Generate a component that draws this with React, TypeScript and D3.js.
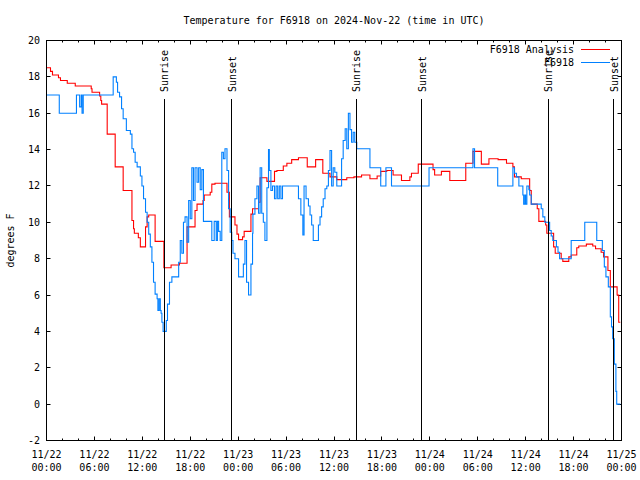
import React from "react";
import * as d3 from "d3";

// ---- Data (hours since 2024-11-22 00:00 UTC) ----
const redHours = [0, 0.5, 0.75, 1.5, 1.75, 2.6, 3.6, 5.6, 5.7, 6.65, 6.8, 6.9, 7.6, 8.6, 9.6, 10.7, 10.9, 11.0, 11.5, 11.75, 12.4, 12.6, 12.8, 13.6, 14.7, 15.6, 16.65, 17.6, 18.6, 18.85, 19.6, 19.75, 20.5, 20.7, 21.1, 22.6, 22.9, 23.6, 23.85, 24.05, 24.55, 24.75, 25.6, 25.8, 26.55, 26.75, 27.6, 28.55, 28.85, 29.65, 30.1, 30.7, 31.55, 32.65, 33.7, 34.6, 35.5, 36.35, 37.6, 38.5, 39.45, 40.5, 41.4, 41.85, 42.6, 43.4, 44.45, 45.5, 45.7, 46.55, 48.4, 48.6, 49.45, 50.5, 52.5, 53.4, 54.45, 55.4, 56.55, 57.6, 58.4, 58.6, 59.45, 60.5, 60.7, 61.45, 61.65, 62.5, 62.65, 63.5, 63.7, 64.45, 64.65, 65.4, 65.7, 66.4, 66.65, 67.6, 68.4, 68.75, 69.45, 69.75, 70.3, 70.6, 71.45, 71.65, 71.85];
const redTemps = [18.5, 18.3, 18.1, 17.95, 17.8, 17.65, 17.5, 17.35, 17.15, 16.95, 16.7, 16.5, 14.85, 13.05, 11.75, 10.1, 9.65, 9.4, 9.15, 8.65, 9.75, 10.3, 10.4, 8.95, 7.5, 7.65, 7.75, 9.75, 10.65, 11.0, 11.2, 11.5, 11.65, 12.1, 12.15, 11.65, 10.3, 9.85, 9.35, 9.05, 9.2, 9.5, 10.45, 10.75, 11.1, 12.45, 12.25, 12.8, 12.85, 13.1, 13.25, 13.45, 13.55, 13.05, 13.45, 12.7, 12.5, 12.35, 12.45, 12.5, 12.6, 12.4, 12.55, 12.8, 12.85, 12.6, 12.3, 12.5, 12.7, 13.2, 12.9, 12.6, 12.8, 12.3, 13.25, 13.9, 13.2, 13.5, 13.45, 13.25, 13.05, 12.5, 12.4, 11.75, 11.0, 10.75, 10.05, 9.85, 9.4, 8.65, 8.3, 8.0, 7.85, 8.1, 8.2, 8.6, 8.7, 8.8, 8.7, 8.55, 8.35, 8.1, 7.35, 6.45, 6.0, 4.5, 4.5];

const blueHours = [0, 1.6, 3.75, 4.15, 4.35, 4.45, 4.6, 8.35, 8.75, 8.9, 9.15, 9.4, 9.6, 10.0, 10.5, 10.7, 10.9, 11.1, 11.35, 11.75, 11.95, 12.15, 12.4, 12.6, 12.8, 13.0, 13.2, 13.4, 13.6, 13.85, 13.95, 14.1, 14.25, 14.35, 14.45, 14.6, 15.0, 15.15, 15.4, 15.7, 16.55, 16.75, 16.95, 17.15, 17.35, 17.6, 17.8, 18.0, 18.2, 18.4, 18.6, 18.85, 19.05, 19.25, 19.45, 19.65, 20.7, 21.0, 21.25, 21.4, 21.55, 21.75, 21.95, 22.15, 22.35, 22.6, 22.8, 23.0, 23.2, 23.35, 23.6, 24.05, 24.65, 24.85, 25.05, 25.3, 25.6, 25.8, 25.85, 26.1, 26.35, 26.55, 26.75, 26.95, 27.15, 27.35, 27.6, 27.8, 27.9, 28.1, 28.3, 28.55, 28.75, 28.95, 29.15, 29.35, 29.55, 31.55, 31.85, 32.1, 32.25, 32.5, 32.8, 33.0, 33.2, 33.4, 34.05, 34.25, 34.45, 34.65, 34.875, 35.1, 35.3, 35.5, 35.7, 35.9, 36.1, 36.35, 36.95, 37.15, 37.4, 37.6, 37.8, 38.0, 38.2, 38.4, 38.6, 38.85, 40.5, 41.85, 42.5, 43.2, 47.9, 53.4, 53.6, 56.5, 58.4, 58.6, 58.85, 59.15, 59.65, 59.75, 59.9, 60.0, 60.15, 60.4, 60.5, 60.7, 61.95, 62.15, 62.4, 63.0, 63.2, 63.4, 63.85, 64.05, 64.25, 65.7, 67.4, 68.9, 69.6, 69.85, 70.05, 70.35, 70.6, 70.75, 70.9, 71.1, 71.3, 71.4, 71.85];
const blueTemps = [17.0, 16.0, 17.0, 16.35, 17.0, 16.0, 17.0, 18.0, 17.7, 17.15, 16.9, 16.25, 15.7, 15.05, 14.85, 14.05, 13.85, 13.3, 13.05, 12.55, 12.0, 11.3, 10.55, 10.0, 9.35, 8.65, 7.8, 6.7, 6.05, 5.8, 5.15, 5.8, 5.15, 5.0, 4.5, 4.0, 4.6, 5.5, 6.7, 7.0, 7.8, 9.0, 8.3, 10.0, 10.3, 8.9, 11.2, 10.2, 13.0, 11.2, 13.0, 12.2, 13.0, 11.8, 12.9, 10.05, 9.0, 10.05, 9.0, 10.05, 9.5, 9.0, 13.85, 13.5, 14.05, 12.85, 10.75, 9.45, 9.0, 8.3, 8.0, 7.0, 7.7, 9.0, 6.7, 6.0, 7.7, 9.4, 10.45, 11.3, 12.0, 10.5, 13.0, 10.5, 10.0, 9.0, 11.9, 14.0, 12.85, 11.75, 12.0, 11.3, 12.0, 11.3, 12.0, 11.3, 12.0, 11.3, 10.4, 9.3, 12.0, 11.3, 10.9, 10.4, 9.85, 9.0, 9.85, 10.3, 10.85, 11.3, 11.85, 12.0, 12.85, 13.95, 12.0, 13.0, 12.75, 12.0, 13.5, 14.5, 15.15, 14.05, 16.0, 15.1, 14.4, 14.95, 14.4, 14.05, 13.0, 12.0, 13.0, 12.0, 13.0, 14.05, 13.0, 12.0, 13.0, 12.7, 12.5, 12.0, 11.5, 11.0, 11.5, 11.0, 12.0, 11.8, 11.5, 11.0, 10.75, 10.3, 10.0, 9.55, 9.25, 9.0, 8.65, 8.35, 8.0, 9.0, 10.0, 9.0, 8.45, 7.55, 7.0, 6.45, 4.8, 4.25, 3.6, 2.2, 0.7, 0.0, 0.0];

const eventHours = [14.75, 23.2, 38.8, 47.0, 62.8, 71.0];
const eventLabels = ["Sunrise", "Sunset", "Sunrise", "Sunset", "Sunrise", "Sunset"];

const yTicks = [-2, 0, 2, 4, 6, 8, 10, 12, 14, 16, 18, 20];
const xTickHours = [0, 6, 12, 18, 24, 30, 36, 42, 48, 54, 60, 66, 72];
const xTickDates = ["11/22", "11/22", "11/22", "11/22", "11/23", "11/23", "11/23", "11/23", "11/24", "11/24", "11/24", "11/24", "11/25"];
const xTickTimes = ["00:00", "06:00", "12:00", "18:00", "00:00", "06:00", "12:00", "18:00", "00:00", "06:00", "12:00", "18:00", "00:00"];
const xMinorHours = d3.range(0, 73, 2);

const seriesNames = ["F6918 Analysis", "F6918"];
const titleText = "Temperature for F6918 on 2024-Nov-22 (time in UTC)";
const yLabel = "degrees F";

const RED = "#ff0000";
const BLUE = "#0080ff";
const FONT = "'DejaVu Sans Mono', 'Liberation Mono', monospace";

export default function App() {
  const W = 640, H = 480;
  const L = 46.5, R = 621.5, T = 40.5, B = 440.5;
  const x = d3.scaleLinear().domain([0, 72]).range([L, R]);
  const y = d3.scaleLinear().domain([-2, 20]).range([B, T]);

  const line = d3
    .line<[number, number]>()
    .x((d) => x(d[0]))
    .y((d) => y(d[1]))
    .curve(d3.curveStepAfter);

  const redPts = redHours.map((h, i) => [h, redTemps[i]] as [number, number]);
  const bluePts = blueHours.map((h, i) => [h, blueTemps[i]] as [number, number]);

  const px = (v: number) => Math.round(v - 0.5) + 0.5;

  return (
    <svg
      width={W}
      height={H}
      style={{ position: "absolute", left: 0, top: 0, background: "#fff", display: "block" }}
      fontFamily={FONT}
      fontSize={10}
    >
      <rect x={0} y={0} width={W} height={H} fill="#fff" />
      {/* title */}
      <text x={(L + R) / 2} y={24} textAnchor="middle" fill="#000">{titleText}</text>

      {/* y ticks */}
      {yTicks.map((t) => (
        <g key={"y" + t}>
          <line x1={L} x2={L + 4} y1={px(y(t))} y2={px(y(t))} stroke="#000" strokeWidth={1} />
          <line x1={R} x2={R - 4} y1={px(y(t))} y2={px(y(t))} stroke="#000" strokeWidth={1} />
          <text x={40} y={y(t) + 3.5} textAnchor="end" fill="#000">{t}</text>
        </g>
      ))}

      {/* x minor ticks */}
      {xMinorHours.map((h) => (
        <g key={"m" + h}>
          <line x1={px(x(h))} x2={px(x(h))} y1={B} y2={B - 2} stroke="#000" strokeWidth={1} />
          <line x1={px(x(h))} x2={px(x(h))} y1={T} y2={T + 2} stroke="#000" strokeWidth={1} />
        </g>
      ))}
      {/* x major ticks + labels */}
      {xTickHours.map((h, i) => (
        <g key={"x" + h}>
          <line x1={px(x(h))} x2={px(x(h))} y1={B} y2={B - 4} stroke="#000" strokeWidth={1} />
          <line x1={px(x(h))} x2={px(x(h))} y1={T} y2={T + 4} stroke="#000" strokeWidth={1} />
          <text x={x(h)} y={458} textAnchor="middle" fill="#000">{xTickDates[i]}</text>
          <text x={x(h)} y={471} textAnchor="middle" fill="#000">{xTickTimes[i]}</text>
        </g>
      ))}

      {/* y axis label */}
      <text transform={`translate(14,${(T + B) / 2}) rotate(-90)`} textAnchor="middle" fill="#000">{yLabel}</text>

      {/* data */}
      <path d={line(redPts) || ""} fill="none" stroke={RED} strokeWidth={1.1} />
      <path d={line(bluePts) || ""} fill="none" stroke={BLUE} strokeWidth={1.1} />

      {/* sunrise / sunset markers */}
      {eventHours.map((h, i) => (
        <g key={"e" + i}>
          <line x1={px(x(h))} x2={px(x(h))} y1={99} y2={B} stroke="#000" strokeWidth={1} />
          <text transform={`translate(${x(h) + 4},92) rotate(-90)`} textAnchor="start" fill="#000">{eventLabels[i]}</text>
        </g>
      ))}

      {/* legend */}
      <text x={574} y={53} textAnchor="end" fill="#000">{seriesNames[0]}</text>
      <line x1={581} x2={610} y1={49.5} y2={49.5} stroke={RED} strokeWidth={1} />
      <text x={574} y={66} textAnchor="end" fill="#000">{seriesNames[1]}</text>
      <line x1={581} x2={610} y1={62.5} y2={62.5} stroke={BLUE} strokeWidth={1} />

      {/* border */}
      <rect x={L} y={T} width={R - L} height={B - T} fill="none" stroke="#000" strokeWidth={1} />
    </svg>
  );
}
